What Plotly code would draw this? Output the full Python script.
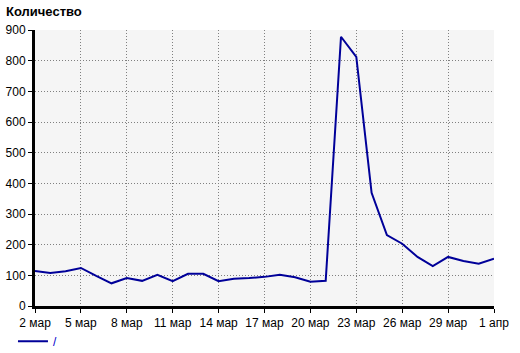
import plotly.graph_objects as go
import pandas as pd

dates = pd.date_range("2024-03-02", "2024-04-01", freq="D")
values = [114, 108, 113, 124, 98, 74, 91, 82, 102, 81, 105,
          105, 81, 89, 91, 95, 102, 94, 79, 82, 878, 812,
          369, 231, 203, 160, 130, 160, 147, 138, 154]
series_name = "/"
tick_dates = pd.date_range("2024-03-02", "2024-04-01", freq="3D")
tick_labels = ["2 мар", "5 мар", "8 мар", "11 мар", "14 мар", "17 мар",
               "20 мар", "23 мар", "26 мар", "29 мар", "1 апр"]
y_ticks = [0, 100, 200, 300, 400, 500, 600, 700, 800, 900]

fig = go.Figure()
fig.add_trace(go.Scatter(x=dates, y=values, mode="lines", name=series_name,
                         line=dict(color="#000099", width=2)))

font = "Liberation Sans, Arial, sans-serif"
fig.update_layout(
    width=520, height=353,
    margin=dict(l=35, r=26, t=30, b=47, autoexpand=False),
    paper_bgcolor="white", plot_bgcolor="#f5f5f5",
    font=dict(family=font, size=12, color="black"),
    showlegend=True,
    legend=dict(orientation="h", x=-0.048, y=-0.075, xanchor="left", yanchor="top",
                font=dict(color="#0000cc", size=12), bgcolor="rgba(0,0,0,0)"),
)
fig.add_annotation(text="<b>Количество</b>", xref="paper", yref="paper",
                   x=-31/459, y=1 + 18/276, xanchor="left", yanchor="middle",
                   showarrow=False, font=dict(size=13, family=font, color="black"))
fig.update_xaxes(range=[dates[0], dates[-1]], tickvals=tick_dates, ticktext=tick_labels,
                 showgrid=True, gridcolor="#808080", griddash="1px,2px", gridwidth=1,
                 showline=True, linecolor="black", linewidth=3,
                 ticks="outside", ticklen=4, tickcolor="black", tickwidth=1,
                 zeroline=False, fixedrange=True)
fig.update_yaxes(range=[0, 900], tickvals=y_ticks,
                 showgrid=True, gridcolor="#808080", griddash="1px,2px", gridwidth=1,
                 showline=True, linecolor="black", linewidth=3,
                 ticks="outside", ticklen=4, tickcolor="black", tickwidth=1,
                 zeroline=False, fixedrange=True)

fig.write_html("out.html", config={"displayModeBar": False})
